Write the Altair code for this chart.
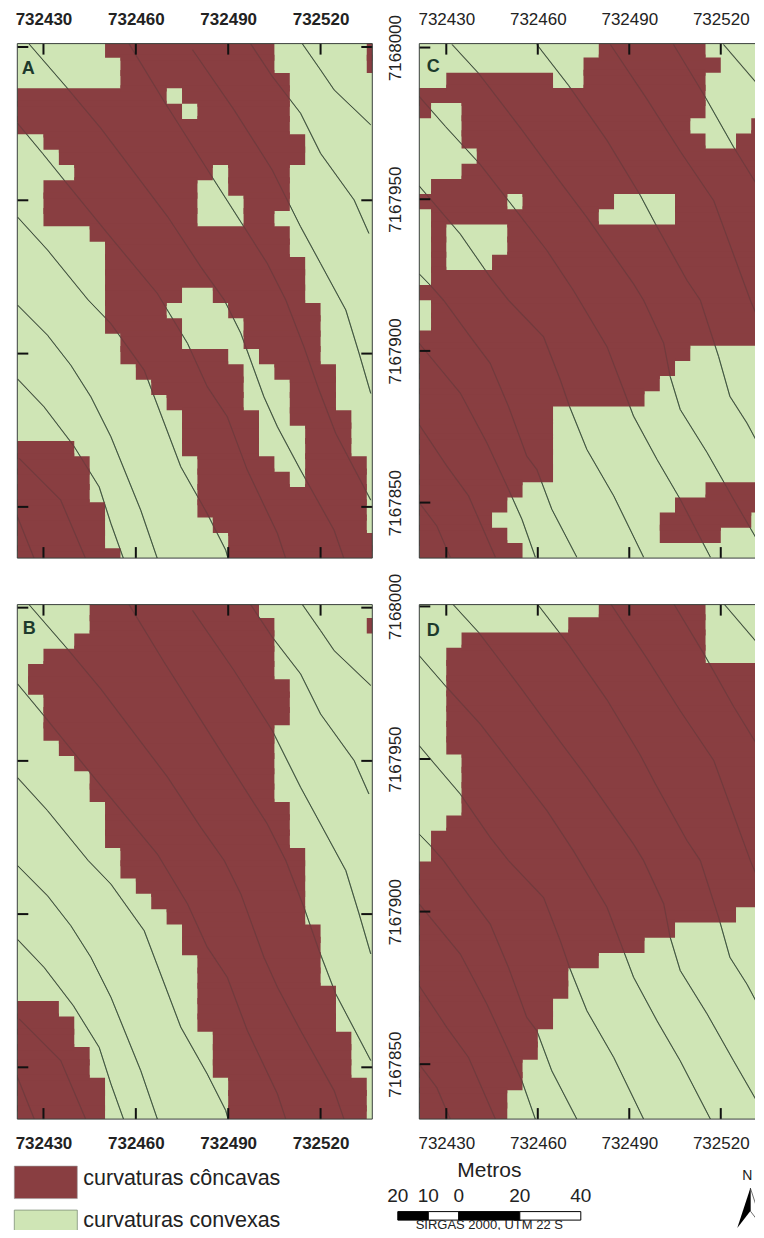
import altair as alt
import pandas as pd

DARK = "#893E41"
LIGHT = "#CFE5B5"
FONT = "Liberation Sans"

X_TICKS = [732430, 732460, 732490, 732520]
Y_TICKS = [7168000, 7167950, 7167900, 7167850]

# Concave cells of every raster row: inclusive column runs (5 m cells)
RUNS_A = [
    [(6,16),(23,23)], [(7,16),(23,23)], [(7,17)], [(0,9),(11,17)], [(0,10),(12,17)], [(0,17)],
    [(2,18)], [(3,18)], [(4,12),(14,17)], [(2,11),(14,17)], [(2,11),(15,17)], [(2,11),(15,16)],
    [(5,17)], [(6,17)], [(6,18)], [(6,18)], [(6,10),(13,18)], [(6,9),(14,19)], [(6,10),(15,19)],
    [(7,10),(15,19)], [(7,13),(16,19)], [(8,14),(17,20)], [(9,14),(18,20)], [(10,14),(18,20)],
    [(11,15),(18,21)], [(11,15),(19,21)], [(0,3),(11,15),(19,21)], [(0,4),(12,16),(19,22)],
    [(0,4),(12,17),(19,22)], [(0,4),(12,22)], [(0,5),(12,22)], [(0,5),(13,22)], [(0,5),(14,23)],
    [(0,6),(14,23)],
]
RUNS_B = [
    [(5,15)], [(5,16),(23,23)], [(4,16)], [(2,16)], [(1,16)], [(1,17)], [(2,17)], [(2,17)],
    [(2,16)], [(3,16)], [(4,16)], [(5,16)], [(5,16)], [(6,17)], [(6,17)], [(6,17)], [(7,18)],
    [(7,18)], [(8,18)], [(9,18)], [(10,18)], [(11,19)], [(11,19)], [(12,19)], [(12,19)], [(12,20)],
    [(0,2),(12,20)], [(0,3),(12,20)], [(0,3),(13,21)], [(0,4),(13,21)], [(0,4),(13,21)],
    [(0,5),(14,22)], [(0,5),(14,22)], [(0,5),(14,22)],
]
RUNS_C = [
    [(12,18)], [(11,19)], [(2,8),(11,18)], [(0,18)], [(0,0),(3,18)], [(3,17),(22,22)],
    [(3,18),(21,22)], [(4,22)], [(3,22)], [(1,22)], [(0,5),(7,12),(17,22)], [(1,11),(17,22)],
    [(1,1),(6,22)], [(1,1),(6,22)], [(1,1),(5,22)], [(1,22)], [(0,22)], [(1,22)], [(1,22)],
    [(0,22)], [(0,17)], [(0,16)], [(0,15)], [(0,14)], [(0,8)], [(0,8)], [(0,8)], [(0,8)], [(0,8)],
    [(0,6),(19,22)], [(0,5),(17,22)], [(0,4),(16,21)], [(0,5),(16,19)], [(0,6)],
]
RUNS_D = [
    [(12,18)], [(10,18)], [(3,18)], [(2,18)], [(2,22)], [(2,22)], [(2,22)], [(2,22)], [(2,22)],
    [(2,22)], [(3,22)], [(3,22)], [(3,22)], [(3,22)], [(2,22)], [(1,22)], [(1,22)], [(0,22)],
    [(0,22)], [(0,22)], [(0,20)], [(0,16)], [(0,14)], [(0,11)], [(0,9)], [(0,9)], [(0,8)], [(0,8)],
    [(0,7)], [(0,7)], [(0,6)], [(0,6)], [(0,5)], [(0,5)],
]

# Contours: (easting - 732000, northing - 7167000)
LINES_AB = [
    [(421.6,846.7),(427,833.1)],
    [(422.1,865.8),(435.6,852.2),(443.7,833.1)],
    [(421.6,891.7),(430.2,882.6),(439.7,870.1),(448.1,856.5),(451.9,844.6),(456,833.1)],
    [(421.6,915.8),(431.3,906),(438.9,896.2),(445.4,885.9),(451.9,872.9),(461.6,848.9),(467,833.1)],
    [(421.6,944.5),(431.3,933.8),(444.5,917.5),(451.9,909.8),(462.7,894.6),(474.6,863.1),(483.2,847.8),(489.2,835.9),(490,833)],
    [(421.6,975.1),(429.7,965.3),(436.7,956.6),(450.8,939.2),(467,919.6),(476.8,903.3),(483.2,889.2),(489.7,879.4),(496.2,862),(506,841.3),(508.7,833.1)],
    [(425.3,1001),(437.3,987.1),(448.6,973.5),(460.5,957.7),(470.3,944.7),(481.1,928.3),(488.7,917.5),(494.1,906.6),(501.6,885.9),(506,876.1),(513.5,862),(524.4,842.4),(527.6,833.1)],
    [(457.8,1001),(469.2,982.2),(485.4,956.6),(502.7,929.4),(508.7,917.5),(514.6,902.2),(519.5,888.1),(524.9,874),(536.3,852.2)],
    [(478.4,999.1),(491.9,979.5),(504.3,959.9),(513.5,941.4),(520,929.4),(528.2,914.2),(532.5,900.1),(536.3,887)],
    [(497.3,1001),(504.3,990.4),(513.5,978.4),(520,965.3),(530.9,950.1),(535.7,939.2)],
    [(514.1,1001),(520,992.5),(524.4,986),(536.3,974.6)],
]
LINES_CD = [
    [(421.1,850),(426.9,842.3),(431.3,832)],
    [(421.1,875.7),(430.2,862),(437.3,852.2),(446.1,832)],
    [(421.1,902.5),(434.6,886.1),(443.3,869.7),(449.9,855.5),(454.8,844.5),(459.2,832)],
    [(421.1,925.4),(424.8,921.6),(429.1,916.7),(437.9,904.6),(444.4,895.9),(450.4,881.7),(456.4,865.3),(459.7,860.9),(464.6,847.8),(472.8,832)],
    [(421.1,954.4),(424.8,950),(434.6,938.5),(444.4,924.3),(450.4,916.7),(461.9,904.6),(467.4,890.4),(470.4,881.7),(476.1,867.5),(484.9,852.2),(494.7,832)],
    [(421.1,983.9),(429.7,974),(441.1,961.5),(452.1,947.3),(463,933.1),(471.7,919.9),(482.7,901.4),(488.1,887.2),(491.4,878.5),(499.1,864.2),(506.7,851.1),(516.6,832)],
    [(431.9,1001),(440.6,991.5),(454.3,973.5),(466.3,957.1),(476.1,944),(491.4,922.1),(494.7,916.7),(501.3,902.5),(503.4,891.6),(506.7,880.7),(515.5,866.5),(524.2,851.1),(534.3,833.6)],
    [(459.7,1001),(470.1,987.5),(482.7,969.4),(493.6,951.3),(498.5,942),(508.9,923.3),(513.3,916.7),(519.3,898.1),(523,885),(528.6,876.2),(534.3,865.5)],
    [(483.8,1001),(495.8,983),(506.7,965.8),(517.7,949.5),(529.7,916.7),(534.3,905.7)],
    [(504.5,1001),(514.9,983.7),(524.2,967.2),(534.3,950.8)],
    [(520.9,1001),(534.3,985.3)],
]

LEGEND_LABELS = ["curvaturas côncavas", "curvaturas convexas"]
BAR_FROM = [-20, -10, 0, 20]
BAR_TO = [-10, 0, 20, 40]
BAR_FILL = ["black", "white", "black", "white"]
BAR_LABEL_AT = [-20, -10, 0, 20, 40]
BAR_LABELS = ["20", "10", "0", "20", "40"]
ARROW_LEFT = {"x": [91.3, 95.6], "top": [62.5, 22.5], "bot": [62.5, 45.5]}
ARROW_RIGHT = {"x": [95.6, 97.5], "top": [22.5, 40.3], "bot": [45.5, 53.1]}

E0 = 732000
N0 = 7167000
ONE = pd.DataFrame({"k": [0]})


def raster(runs, first_edge):
    cells, joints = [], []
    for r, row in enumerate(runs):
        top = first_edge - 5 * (r - 1)
        for a, b in row:
            cells.append({"x": 732430 + 5 * (a - 2), "x2": 732430 + 5 * (b - 1), "y": top, "y2": top - 5})
        if r + 1 < len(runs):
            for a, b in row:
                for c, d in runs[r + 1]:
                    lo, hi = max(a, c), min(b, d)
                    if lo <= hi:
                        joints.append({"x": 732430 + 5 * (lo - 2), "x2": 732430 + 5 * (hi - 1),
                                       "y": top - 4, "y2": top - 6})
    return pd.DataFrame(cells), pd.DataFrame(joints)


def lines_df(lines):
    rows = []
    for i, ln in enumerate(lines):
        for j, (e, n) in enumerate(ln):
            rows.append({"id": i, "o": j, "x": E0 + e, "y": N0 + n})
    return pd.DataFrame(rows)


def panel(runs, lines, first_edge, xdom, ydom, w, h, letter, lpos, xorient, ylabels, bold, right_len):
    sx = alt.Scale(domain=xdom, nice=False, zero=False)
    sy = alt.Scale(domain=ydom, nice=False, zero=False)
    weight = "bold" if bold else "normal"
    ax = alt.Axis(orient=xorient, values=X_TICKS, format="d", ticks=False, domain=False, grid=False, title=None,
                  labelFont=FONT, labelFontSize=17, labelFontWeight=weight, labelColor="#222222",
                  labelPadding=15 if xorient == "top" else 16, labelOverlap=False, labelFlush=False, labelBound=False)
    ay = (alt.Axis(orient="left", values=Y_TICKS, format="d", ticks=False, domain=False, grid=False, title=None,
                   labelFont=FONT, labelFontSize=17, labelColor="#222222", labelAngle=270,
                   labelAlign="center", labelBaseline="bottom", labelPadding=15,
                   labelOverlap=False, labelFlush=False, labelBound=False) if ylabels else None)
    X = lambda f: alt.X(f, type="quantitative", scale=sx, axis=ax)
    Y = lambda f: alt.Y(f, type="quantitative", scale=sy, axis=ay)

    cells, joints = raster(runs, first_edge)
    ldf = lines_df(lines)
    layers = []
    layers.append(alt.Chart(ONE).mark_rect(color=LIGHT).encode(
        x=alt.value(0), x2=alt.value(w), y=alt.value(0), y2=alt.value(h)))
    layers.append(alt.Chart(ldf).mark_line(color="#2a6a42", strokeWidth=1, clip=True).encode(
        x=X("x"), y=Y("y"), detail="id:N", order="o:Q"))
    for frame in (cells, joints):
        layers.append(alt.Chart(frame).mark_rect(color=DARK, clip=True).encode(
            x=X("x"), x2="x2", y=Y("y"), y2="y2"))
    layers.append(alt.Chart(ldf).mark_line(color="#54383a", strokeWidth=1.2, opacity=0.45, clip=True).encode(
        x=X("x"), y=Y("y"), detail="id:N", order="o:Q"))
    # inward ticks on every side
    xt = pd.DataFrame({"x": X_TICKS})
    yt = pd.DataFrame({"y": Y_TICKS})
    tick = dict(color="#111111", strokeWidth=2)
    layers.append(alt.Chart(xt).mark_rule(**tick).encode(x=X("x"), y=alt.value(0), y2=alt.value(11)))
    layers.append(alt.Chart(xt).mark_rule(**tick).encode(x=X("x"), y=alt.value(h - 11), y2=alt.value(h)))
    layers.append(alt.Chart(yt).mark_rule(**tick).encode(y=Y("y"), x=alt.value(0), x2=alt.value(11)))
    layers.append(alt.Chart(yt).mark_rule(**tick).encode(y=Y("y"), x=alt.value(w - right_len), x2=alt.value(w)))
    # frame
    fr = dict(color="#3a3f3c", strokeWidth=1)
    layers.append(alt.Chart(ONE).mark_rule(**fr).encode(x=alt.value(0), x2=alt.value(w), y=alt.value(0)))
    layers.append(alt.Chart(ONE).mark_rule(**fr).encode(x=alt.value(0), x2=alt.value(w), y=alt.value(h)))
    layers.append(alt.Chart(ONE).mark_rule(**fr).encode(x=alt.value(0), y=alt.value(0), y2=alt.value(h)))
    if right_len > 2:
        layers.append(alt.Chart(ONE).mark_rule(**fr).encode(x=alt.value(w), y=alt.value(0), y2=alt.value(h)))
    layers.append(alt.Chart(pd.DataFrame({"t": [letter]})).mark_text(
        font=FONT, fontSize=18, fontWeight="bold", color="#1d3a2c").encode(
        text="t:N", x=alt.value(lpos[0]), y=alt.value(lpos[1])))
    return alt.layer(*layers).properties(width=w, height=h)


W1, W2, H = 355, 337, 514.5
XD1 = [732421.5, 732536.8]
XD2 = [732421.15, 732531.65]
A = panel(RUNS_A, LINES_AB, 7167996.5, XD1, [7167833.3, 7168001.1], W1, H, "A", (11, 25), "top", False, True, 11)
B = panel(RUNS_B, LINES_AB, 7167996.6, XD1, [7167833.1, 7168001.0], W1, H, "B", (12, 24), "bottom", False, True, 11)
C = panel(RUNS_C, LINES_CD, 7167996.7, XD2, [7167831.7, 7168001.3], W2, H, "C", (14, 23), "top", True, False, 1)
D = panel(RUNS_D, LINES_CD, 7167996.45, XD2, [7167832.0, 7168000.6], W2, H, "D", (14, 26), "bottom", True, False, 1)

# Legend / scale bar strip
LH = 65
sm = alt.Scale(domain=[-144.75, -28.36], nice=False, zero=False)
sp = alt.Scale(domain=[LH, 0], nice=False, zero=False)
Xm = lambda f: alt.X(f, type="quantitative", scale=sm, axis=None)
Yp = lambda f: alt.Y(f, type="quantitative", scale=sp, axis=None)
leg = []
leg.append(alt.Chart(ONE).mark_rect(color=DARK, stroke="#999999", strokeWidth=0.6).encode(
    x=alt.value(-3), x2=alt.value(60), y=alt.value(0.5), y2=alt.value(33)))
leg.append(alt.Chart(ONE).mark_rect(color=LIGHT, stroke="#7f8f78", strokeWidth=0.8).encode(
    x=alt.value(-3), x2=alt.value(60), y=alt.value(44.5), y2=alt.value(LH)))
text_common = dict(font=FONT, color="#222222", align="left", baseline="middle", fontSize=21.5)
leg.append(alt.Chart(pd.DataFrame({"t": [LEGEND_LABELS[0]]})).mark_text(**text_common).encode(
    text="t:N", x=alt.value(66), y=alt.value(13.5)))
leg.append(alt.Chart(pd.DataFrame({"t": [LEGEND_LABELS[1]]})).mark_text(**text_common).encode(
    text="t:N", x=alt.value(66), y=alt.value(55)))
leg.append(alt.Chart(pd.DataFrame({"a": BAR_FROM, "b": BAR_TO, "f": BAR_FILL})).mark_rect(
    stroke="black", strokeWidth=1).encode(
    x=Xm("a"), x2="b", y=alt.value(46), y2=alt.value(54.5), fill=alt.Fill("f:N", scale=None)))
leg.append(alt.Chart(pd.DataFrame({"a": BAR_LABEL_AT, "t": BAR_LABELS})).mark_text(
    font=FONT, fontSize=19, color="#222222", baseline="middle").encode(
    x=Xm("a"), y=alt.value(30.5), text="t:N"))
leg.append(alt.Chart(pd.DataFrame({"a": [10], "t": ["Metros"]})).mark_text(
    font=FONT, fontSize=21, color="#222222", baseline="middle").encode(
    x=Xm("a"), y=alt.value(5.5), text="t:N"))
leg.append(alt.Chart(pd.DataFrame({"a": [10], "t": ["SIRGAS 2000, UTM 22 S"]})).mark_text(
    font=FONT, fontSize=13, color="#222222", baseline="middle").encode(
    x=Xm("a"), y=alt.value(59), text="t:N"))
leg.append(alt.Chart(pd.DataFrame({"t": ["N"]})).mark_text(
    font=FONT, fontSize=14, color="#222222", baseline="middle").encode(
    x=alt.value(730), y=alt.value(10.5), text="t:N"))
leg.append(alt.Chart(pd.DataFrame(ARROW_RIGHT)).mark_area(color="white", stroke="#333333", strokeWidth=0.7).encode(
    x=Xm("x"), y=Yp("top"), y2="bot"))
leg.append(alt.Chart(pd.DataFrame(ARROW_LEFT)).mark_area(color="black").encode(
    x=Xm("x"), y=Yp("top"), y2="bot"))
L = alt.layer(*leg).properties(width=W1, height=LH)

chart = alt.concat(A, C, B, D, L, columns=2, spacing={"row": 46, "column": 47}, bounds="flush").properties(
    padding={"left": 5.3, "top": 2.6, "right": -3, "bottom": -1.5}
).configure_view(stroke=None)

chart.save("out.html", embed_options={"renderer": "svg", "actions": False})
